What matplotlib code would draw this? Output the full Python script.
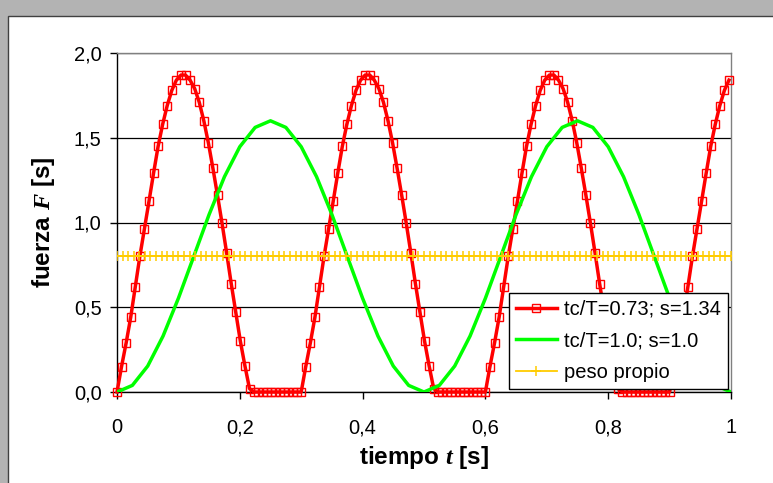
import numpy as np
import matplotlib
matplotlib.use("Agg")
import matplotlib.pyplot as plt
from matplotlib.patches import Rectangle

plt.rcParams['font.family'] = ['Liberation Sans', 'DejaVu Sans']
plt.rcParams['mathtext.fontset'] = 'custom'
plt.rcParams['mathtext.it'] = 'Liberation Serif:italic:bold'
plt.rcParams['mathtext.rm'] = 'Liberation Sans:bold'

# ---- data ----
t_rojo = [
    0.0000, 0.0074, 0.0149, 0.0223, 0.0298, 0.0372, 0.0446, 0.0521, 0.0595, 0.0670,
    0.0744, 0.0818, 0.0893, 0.0967, 0.1042, 0.1116, 0.1190, 0.1265, 0.1339, 0.1414,
    0.1488, 0.1562, 0.1637, 0.1711, 0.1786, 0.1860, 0.1934, 0.2009, 0.2083, 0.2158,
    0.2230, 0.2300, 0.2370, 0.2440, 0.2510, 0.2580, 0.2650, 0.2720, 0.2790, 0.2860, 0.2930,
    0.3000, 0.3074, 0.3149, 0.3223, 0.3298, 0.3372, 0.3446, 0.3521, 0.3595, 0.3670,
    0.3744, 0.3818, 0.3893, 0.3967, 0.4042, 0.4116, 0.4190, 0.4265, 0.4339, 0.4414,
    0.4488, 0.4562, 0.4637, 0.4711, 0.4786, 0.4860, 0.4934, 0.5009, 0.5083, 0.5158,
    0.5230, 0.5300, 0.5370, 0.5440, 0.5510, 0.5580, 0.5650, 0.5720, 0.5790, 0.5860, 0.5930,
    0.6000, 0.6074, 0.6149, 0.6223, 0.6298, 0.6372, 0.6446, 0.6521, 0.6595, 0.6670,
    0.6744, 0.6818, 0.6893, 0.6967, 0.7042, 0.7116, 0.7190, 0.7265, 0.7339, 0.7414,
    0.7488, 0.7562, 0.7637, 0.7711, 0.7786, 0.7860, 0.7934, 0.8009, 0.8083, 0.8158,
    0.8230, 0.8300, 0.8370, 0.8440, 0.8510, 0.8580, 0.8650, 0.8720, 0.8790, 0.8860, 0.8930,
    0.9000, 0.9074, 0.9149, 0.9223, 0.9298, 0.9372, 0.9446, 0.9521, 0.9595, 0.9670,
    0.9744, 0.9818, 0.9893, 0.9967,
]
F_rojo = [
    0.00, 0.15, 0.29, 0.44, 0.62, 0.80, 0.96, 1.125, 1.29, 1.45,
    1.58, 1.69, 1.78, 1.84, 1.87, 1.87, 1.84, 1.79, 1.71, 1.60,
    1.47, 1.32, 1.16, 0.995, 0.82, 0.64, 0.47, 0.30, 0.155, 0.02,
    0, 0, 0, 0, 0, 0, 0, 0, 0, 0, 0,
    0.00, 0.15, 0.29, 0.44, 0.62, 0.80, 0.96, 1.125, 1.29, 1.45,
    1.58, 1.69, 1.78, 1.84, 1.87, 1.87, 1.84, 1.79, 1.71, 1.60,
    1.47, 1.32, 1.16, 0.995, 0.82, 0.64, 0.47, 0.30, 0.155, 0.02,
    0, 0, 0, 0, 0, 0, 0, 0, 0, 0, 0,
    0.00, 0.15, 0.29, 0.44, 0.62, 0.80, 0.96, 1.125, 1.29, 1.45,
    1.58, 1.69, 1.78, 1.84, 1.87, 1.87, 1.84, 1.79, 1.71, 1.60,
    1.47, 1.32, 1.16, 0.995, 0.82, 0.64, 0.47, 0.30, 0.155, 0.02,
    0, 0, 0, 0, 0, 0, 0, 0, 0, 0, 0,
    0.00, 0.15, 0.29, 0.44, 0.62, 0.80, 0.96, 1.125, 1.29, 1.45,
    1.58, 1.69, 1.78, 1.84,
]

t_verde = [
    0.000, 0.025, 0.050, 0.075, 0.100, 0.125, 0.150, 0.175, 0.200, 0.225,
    0.250, 0.275, 0.300, 0.325, 0.350, 0.375, 0.400, 0.425, 0.450, 0.475,
    0.500, 0.525, 0.550, 0.575, 0.600, 0.625, 0.650, 0.675, 0.700, 0.725,
    0.750, 0.775, 0.800, 0.825, 0.850, 0.875, 0.900, 0.925, 0.950, 0.975, 1.000,
]
F_verde = [
    0.000, 0.039, 0.153, 0.330, 0.553, 0.800, 1.047, 1.270, 1.447, 1.561,
    1.600, 1.561, 1.447, 1.270, 1.047, 0.800, 0.553, 0.330, 0.153, 0.039,
    0.000, 0.039, 0.153, 0.330, 0.553, 0.800, 1.047, 1.270, 1.447, 1.561,
    1.600, 1.561, 1.447, 1.270, 1.047, 0.800, 0.553, 0.330, 0.153, 0.039, 0.000,
]

peso_valor = 0.8
t_peso = np.linspace(0.0, 1.0, 111)
F_peso = np.full(t_peso.size, peso_valor)

etiquetas = ["tc/T=0.73; s=1.34", "tc/T=1.0; s=1.0", "peso propio"]
x_ticks = [0, 0.2, 0.4, 0.6, 0.8, 1.0]
x_ticklabels = ["0", "0,2", "0,4", "0,6", "0,8", "1"]
y_ticks = [0, 0.5, 1.0, 1.5, 2.0]
y_ticklabels = ["0,0", "0,5", "1,0", "1,5", "2,0"]

# ---- figure ----
W, H = 773, 483
fig = plt.figure(figsize=(W / 100, H / 100), dpi=100)
fig.patch.set_facecolor('#b3b3b3')
fondo = Rectangle((8 / W, -0.05), 1.1, 1 - 16 / H + 0.05,
                  transform=fig.transFigure, facecolor='white',
                  edgecolor='#404040', linewidth=1.0, zorder=-10)
fig.add_artist(fondo)

ax = fig.add_axes([117 / W, 1 - 392 / H, (731 - 117) / W, (392 - 53) / H])
ax.set_zorder(1)
ax.set_facecolor('white')

ax.plot(t_rojo, F_rojo, color='#ff0000', lw=2.5, marker='s', ms=5.5,
        mfc='none', mec='#ff0000', mew=1.0, clip_on=False, zorder=3,
        label=etiquetas[0])
ax.plot(t_verde, F_verde, color='#00ff00', lw=2.5, zorder=4, label=etiquetas[1])
ax.plot(t_peso, F_peso, color='#ffcc00', lw=1.3, marker='+', ms=6.5, mew=1.1,
        zorder=5, label=etiquetas[2])

ax.set_xlim(0, 1)
ax.set_ylim(0, 2)
ax.set_xticks(x_ticks)
ax.set_xticklabels(x_ticklabels)
ax.set_yticks(y_ticks)
ax.set_yticklabels(y_ticklabels)
ax.tick_params(axis='both', direction='out', length=5, width=1,
               labelsize=14.5, colors='black')
ax.tick_params(axis='y', pad=6)
ax.tick_params(axis='x', pad=14)
ax.yaxis.grid(True, color='black', lw=0.9)
ax.set_axisbelow(True)
for s in ['left', 'bottom']:
    ax.spines[s].set_color('black')
    ax.spines[s].set_linewidth(1.0)
for s in ['top', 'right']:
    ax.spines[s].set_color('#808080')
    ax.spines[s].set_linewidth(1.0)

ax.set_xlabel(r'tiempo $t$ [s]', fontsize=17.5, fontweight='bold', labelpad=5)
ax.set_ylabel(r'fuerza $F$ [s]', fontsize=17.5, fontweight='bold', labelpad=12)

leg = ax.legend(loc='lower left', bbox_to_anchor=(0.638, 0.01),
                fontsize=14.5, frameon=True, fancybox=False,
                edgecolor='black', framealpha=1, handlelength=2.05,
                labelspacing=0.62, borderpad=0.35, handletextpad=0.35,
                borderaxespad=0)
leg.get_frame().set_linewidth(1.0)
leg.set_zorder(10)

fig.savefig('out.png', dpi=100, facecolor=fig.get_facecolor())
